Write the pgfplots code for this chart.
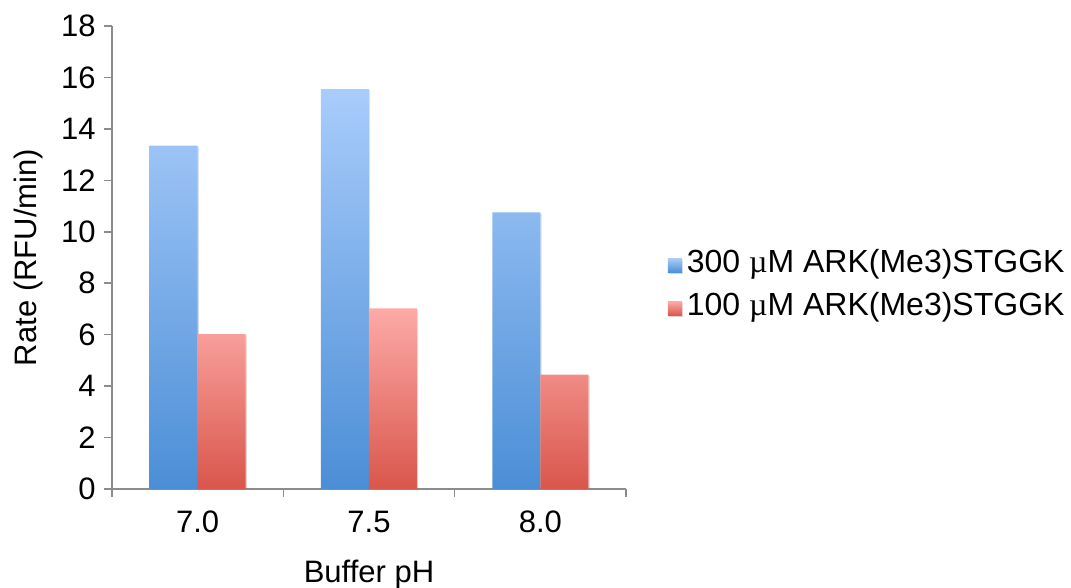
\documentclass[border=0pt]{standalone}
\usepackage{pgfplots}
\pgfplotsset{compat=1.18}
\usepackage{fontspec}
\setmainfont{Liberation Sans}
\newfontfamily\mufont{Liberation Serif}
\usetikzlibrary{shadows}

\definecolor{bluetop}{HTML}{A9CCFB}
\definecolor{bluebot}{HTML}{4B8ED6}
\definecolor{redtop}{HTML}{FDAAA7}
\definecolor{redbot}{HTML}{D9564B}
\definecolor{axisgray}{HTML}{8C8C8C}

\newcommand{\chartfont}{\fontsize{15.5pt}{18pt}\selectfont}
\newcommand{\legendfont}{\fontsize{16pt}{19pt}\selectfont}
\newcommand{\um}{{\mufont µ}M}

\pgfplotsset{
  square legend/.style={
    legend image code/.code={\path[##1,draw=none] (0pt,-3.5pt) rectangle (7pt,3.5pt);}
  },
}

\begin{document}
\begin{tikzpicture}
\useasboundingbox (0,0) rectangle (535.5pt,294pt);
\begin{axis}[
  at={(56pt,49.5pt)}, anchor=south west,
  scale only axis, width=257pt, height=231.5pt,
  xmin=-0.5, xmax=2.5, ymin=0, ymax=18,
  axis x line*=bottom, axis y line*=left,
  axis line style={draw=axisgray, line width=0.8pt},
  tick align=outside,
  major tick length=4pt,
  tick style={draw=axisgray, line width=0.8pt},
  ytick={0,2,...,18},
  xtick={-0.5,0.5,1.5,2.5}, xticklabels={},
  extra x ticks={0,1,2}, extra x tick labels={7.0,7.5,8.0},
  extra x tick style={major tick length=0pt},
  /pgf/number format/assume math mode=true,
  tick label style={font=\chartfont, text=black},
  yticklabel style={anchor=east, inner sep=0pt, xshift=-4pt},
  xticklabel style={anchor=base, inner sep=0pt, yshift=-22pt},
  xlabel={Buffer pH},
  ylabel={Rate (RFU/min)},
  label style={font=\chartfont},
  xlabel style={at={(axis description cs:0.5,0)}, anchor=base, inner sep=0pt, yshift=-47pt},
  ylabel style={at={(axis description cs:-0.1634,0.5)}, anchor=center, inner sep=0pt},
  ybar=0pt, bar width=24pt,
  legend style={
    font=\legendfont, draw=none, fill=none,
    at={(axis description cs:1,0.4428)}, anchor=west, xshift=20.75pt, yshift=-1.5pt,
    inner sep=0pt, row sep=7pt,
    cells={anchor=west},
    nodes={inner ysep=0pt, inner xsep=2.5pt, text height=11pt, text depth=3.5pt},
  },
  legend cell align=left,
]
\addplot[draw=none, top color=bluetop, bottom color=bluebot,
  drop shadow={shadow xshift=0.6pt, shadow yshift=-0.6pt, opacity=0.18},
  square legend]
  coordinates {(0,13.35) (1,15.55) (2,10.75)};
\addplot[draw=none, top color=redtop, bottom color=redbot,
  drop shadow={shadow xshift=0.6pt, shadow yshift=-0.6pt, opacity=0.18},
  square legend]
  coordinates {(0,6.02) (1,7.02) (2,4.45)};
\legend{300 \um\ ARK(Me3)STGGK, 100 \um\ ARK(Me3)STGGK}
\end{axis}
\end{tikzpicture}
\end{document}
